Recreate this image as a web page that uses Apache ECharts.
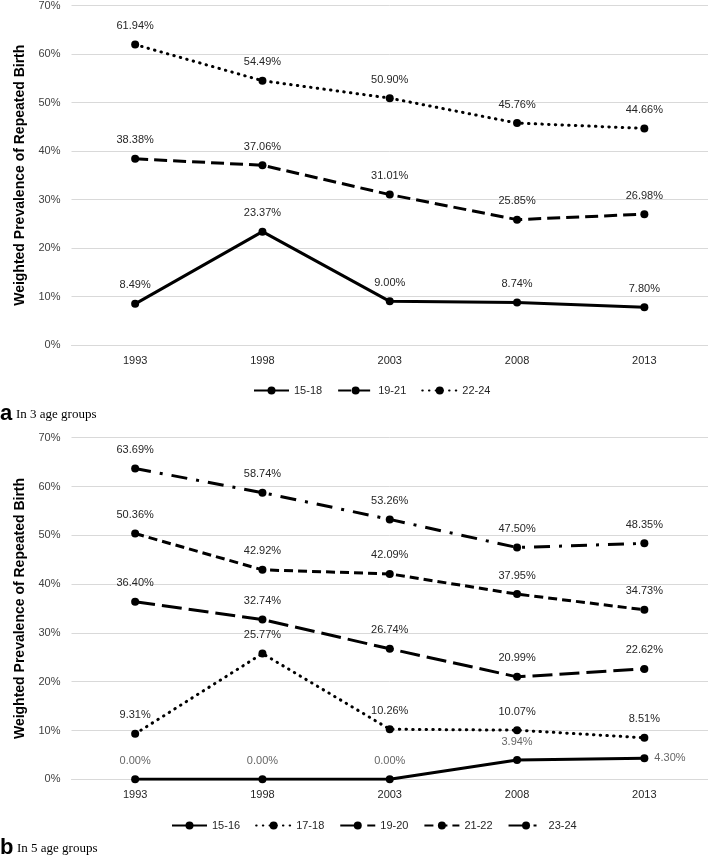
<!DOCTYPE html>
<html>
<head>
<meta charset="utf-8">
<script src="https://cdn.jsdelivr.net/npm/echarts@6/dist/echarts.min.js"></script>
<style>
html,body{margin:0;padding:0;background:#fff;}
#c{width:708px;height:856px;}
</style>
</head>
<body>
<div id="c"></div>
<script>
// ---- data ----
var years = ['1993', '1998', '2003', '2008', '2013'];
var yTicks = [0, 10, 20, 30, 40, 50, 60, 70];

// Panel a: 3 age groups
var a_names = ['15-18', '19-21', '22-24'];
var a_15_18 = [8.49, 23.37, 9.00, 8.74, 7.80];
var a_19_21 = [38.38, 37.06, 31.01, 25.85, 26.98];
var a_22_24 = [61.94, 54.49, 50.90, 45.76, 44.66];

// Panel b: 5 age groups
var b_names = ['15-16', '17-18', '19-20', '21-22', '23-24'];
var b_15_16 = [0.00, 0.00, 0.00, 3.94, 4.30];
var b_17_18 = [9.31, 25.77, 10.26, 10.07, 8.51];
var b_19_20 = [36.40, 32.74, 26.74, 20.99, 22.62];
var b_21_22 = [50.36, 42.92, 42.09, 37.95, 34.73];
var b_23_24 = [63.69, 58.74, 53.26, 47.50, 48.35];

var captionA = 'In 3 age groups';
var captionB = 'In 5 age groups';
var yTitle = 'Weighted Prevalence of Repeated Birth';

// ---- styles ----
var FONT = 'Liberation Sans';
var styles = {
  solid: { type: 'solid', cap: 'butt' },
  dot: { type: [0.5, 6.2], cap: 'round' },
  dash: { type: [13, 6], cap: 'butt' },
  dashMed: { type: [9, 5], cap: 'butt' },
  longDash: { type: [20, 7], cap: 'butt' },
  dashDot: { type: [16, 9, 3, 9], cap: 'butt' }
};

function fmt(p) {
  var v = (typeof p.value === 'number') ? p.value : p.data.value;
  return v.toFixed(2) + '%';
}

function mkSeries(name, data, style, idx, labelColor) {
  return {
    name: name,
    type: 'line',
    xAxisIndex: idx,
    yAxisIndex: idx,
    data: data,
    symbol: 'circle',
    symbolSize: 8,
    itemStyle: { color: '#000' },
    lineStyle: { color: '#000', width: 3, type: style.type, cap: style.cap },
    animation: false,
    label: {
      show: true,
      position: 'top',
      distance: 9,
      fontFamily: FONT,
      fontSize: 11,
      color: labelColor || '#262626',
      formatter: fmt
    }
  };
}

function yAxis(idx) {
  return {
    gridIndex: idx,
    type: 'value',
    min: 0, max: 70, interval: 10,
    name: yTitle,
    nameLocation: 'middle',
    nameGap: 40,
    nameTextStyle: { fontFamily: FONT, fontSize: 14, fontWeight: 'bold', color: '#000' },
    axisLine: { show: false },
    axisTick: { show: false },
    axisLabel: { formatter: '{value}%', fontFamily: FONT, fontSize: 11, color: '#404040', margin: 11 },
    splitLine: { lineStyle: { color: '#d9d9d9', width: 1 } }
  };
}
function xAxis(idx) {
  return {
    gridIndex: idx,
    type: 'category',
    data: years,
    boundaryGap: true,
    axisLine: { show: true, lineStyle: { color: '#d9d9d9', width: 1 } },
    axisTick: { show: false },
    axisLabel: { fontFamily: FONT, fontSize: 11, color: '#262626', margin: 10 }
  };
}

var s15_16 = mkSeries('15-16', b_15_16, styles.solid, 1, '#666');
s15_16.data = b_15_16.map(function (v, i) {
  return i === 4 ? { value: v, label: { position: 'right', distance: 6 } } : v;
});

var option = {
  backgroundColor: '#fff',
  animation: false,
  grid: [
    { left: 71.5, right: 0, top: 4.3, height: 340.7 },
    { left: 71.5, right: 0, top: 437.7, height: 341.6 }
  ],
  xAxis: [xAxis(0), xAxis(1)],
  yAxis: [yAxis(0), yAxis(1)],
  legend: [
    {
      data: a_names, left: 248, top: 380, itemWidth: 35, itemHeight: 10, itemGap: 15,
      textStyle: { fontFamily: FONT, fontSize: 11, color: '#262626' }
    },
    {
      data: b_names, left: 166, top: 815, itemWidth: 35, itemHeight: 10, itemGap: 15,
      textStyle: { fontFamily: FONT, fontSize: 11, color: '#262626' }
    }
  ],
  series: [
    mkSeries('15-18', a_15_18, styles.solid, 0),
    mkSeries('19-21', a_19_21, styles.dash, 0),
    mkSeries('22-24', a_22_24, styles.dot, 0),
    s15_16,
    mkSeries('17-18', b_17_18, styles.dot, 1),
    mkSeries('19-20', b_19_20, styles.longDash, 1),
    mkSeries('21-22', b_21_22, styles.dashMed, 1),
    mkSeries('23-24', b_23_24, styles.dashDot, 1)
  ],
  graphic: [
    { type: 'text', left: 0, top: 403, style: { text: 'a', font: 'bold 22px "Liberation Sans"', fill: '#000' } },
    { type: 'text', left: 16, top: 408, style: { text: captionA, font: '13px "Liberation Serif"', fill: '#000' } },
    { type: 'text', left: 0, top: 837, style: { text: 'b', font: 'bold 22px "Liberation Sans"', fill: '#000' } },
    { type: 'text', left: 17, top: 842, style: { text: captionB, font: '13px "Liberation Serif"', fill: '#000' } }
  ]
};

var chart = echarts.init(document.getElementById('c'), null, { renderer: 'canvas' });
chart.setOption(option);
</script>
</body>
</html>
